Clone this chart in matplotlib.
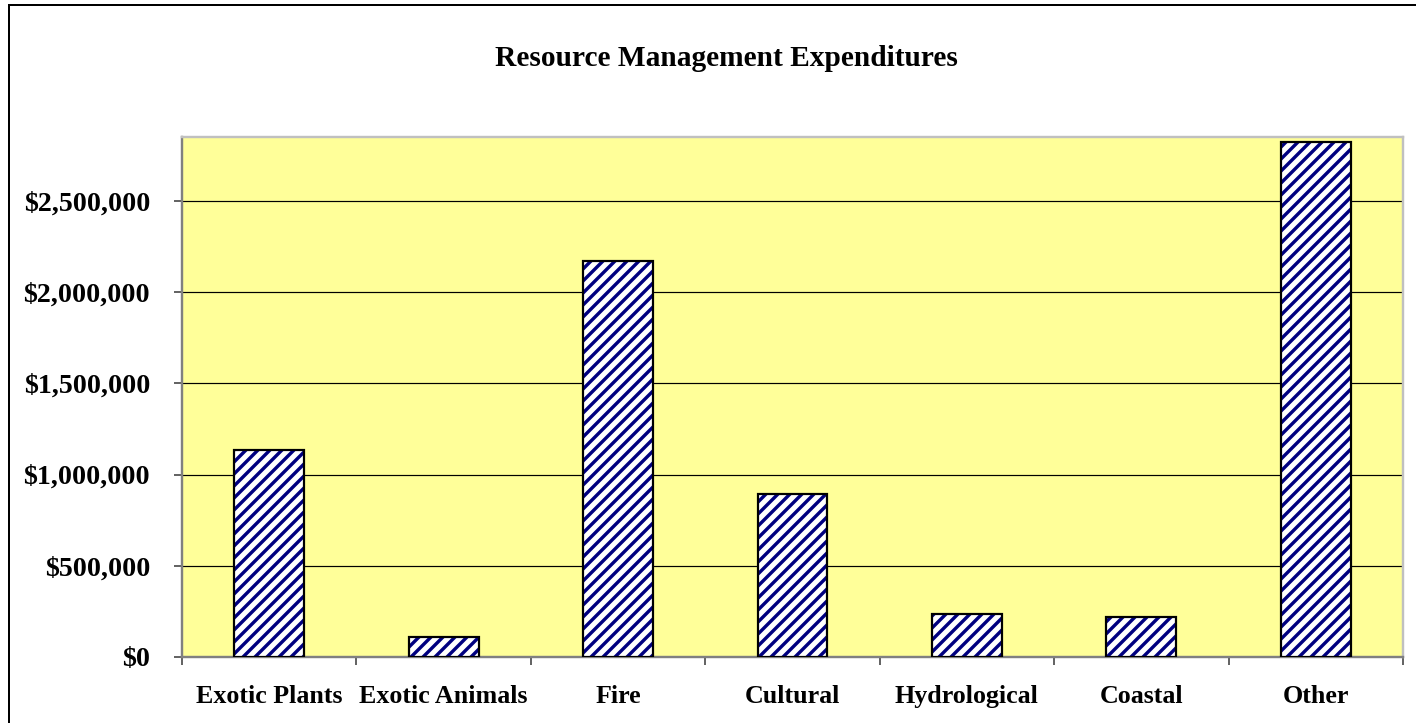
import matplotlib
matplotlib.use("Agg")
import matplotlib.pyplot as plt
from matplotlib.ticker import FuncFormatter, FixedLocator
from matplotlib.patches import Rectangle

categories = ["Exotic Plants", "Exotic Animals", "Fire", "Cultural",
              "Hydrological", "Coastal", "Other"]
values = [1135000, 108000, 2172000, 892000, 234000, 220000, 2821000]
title = "Resource Management Expenditures"

plt.rcParams['font.family'] = ['Liberation Serif', 'DejaVu Serif']
plt.rcParams['font.weight'] = 'bold'
plt.rcParams['hatch.linewidth'] = 1.7

DPI = 144
fig = plt.figure(figsize=(1416 / DPI, 723 / DPI), dpi=DPI)
fig.patch.set_facecolor('white')
ax = fig.add_axes([182 / 1416, 1 - 657 / 723, (1403 - 182) / 1416, (657 - 137) / 723])
ax.set_facecolor('#FFFF99')

x = list(range(len(categories)))
ax.bar(x, values, width=0.4, facecolor='white', edgecolor='#000080', hatch='////',
       linewidth=0, zorder=3)
ax.bar(x, values, width=0.4, fill=False, edgecolor='black', linewidth=1.1, zorder=4)

ax.set_xlim(-0.5, len(categories) - 0.5)
ax.set_ylim(0, 2850000)
ax.yaxis.set_major_locator(FixedLocator([0, 500000, 1000000, 1500000, 2000000, 2500000]))
ax.yaxis.set_major_formatter(FuncFormatter(lambda v, p: f"${v:,.0f}"))
ax.grid(axis='y', color='black', linewidth=0.6, zorder=1)
ax.set_axisbelow(True)

ax.set_xticks([i - 0.5 for i in range(len(categories) + 1)])
ax.set_xticklabels([])
ax.set_xticks(x, minor=True)
ax.set_xticklabels(categories, minor=True)
ax.tick_params(axis='x', which='major', length=4, width=0.8, color='#404040', direction='out')
ax.tick_params(axis='x', which='minor', length=0, pad=14, labelsize=13)
ax.tick_params(axis='y', length=4, width=0.8, color='#404040', pad=12, labelsize=14)
for lab in ax.get_xticklabels(minor=True) + ax.get_yticklabels():
    lab.set_fontweight('bold')

ax.spines['left'].set_color('#808080')
ax.spines['left'].set_linewidth(1.2)
ax.spines['bottom'].set_color('#808080')
ax.spines['bottom'].set_linewidth(1.2)
ax.spines['top'].set_color('#C0C0C0')
ax.spines['top'].set_linewidth(1.2)
ax.spines['right'].set_color('#C0C0C0')
ax.spines['right'].set_linewidth(1.2)

fig.text(726 / 1416, 1 - 58 / 723, title, ha='center', va='center', fontsize=14.7,
         fontweight='bold')

fig.add_artist(Rectangle((8.5 / 1416, -0.05), 1.2, 1.05 - 5.5 / 723,
                         transform=fig.transFigure, fill=False,
                         edgecolor='black', linewidth=1.0))

fig.savefig('out.png', dpi=DPI)
